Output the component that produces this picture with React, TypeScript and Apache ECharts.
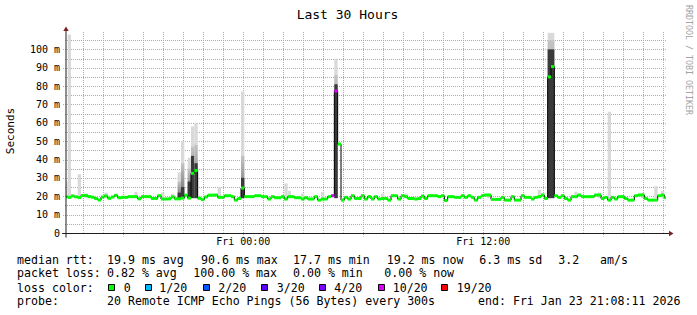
import React, { useEffect, useRef } from 'react';
import * as echarts from 'echarts';

// ---------- data ----------
const START_HOUR = 15 + 8 / 60 + 11 / 3600; // Thu 15:08:11, hours since Thu 00:00
const SPAN_HOURS = 30;
const STEP_HOURS = 10 / 60; // one sample per 10 minutes
const Y_MAX = 110;

// median round-trip time (ms), one per step
const medianMs = [
  19.7, 19.4, 20.2, 19.7, 19.3, 20.4, 20.4, 19.8, 19.5, 18.8,
  18.0, 19.6, 20.2, 18.9, 19.6, 20.5, 19.2, 19.4, 19.4, 19.8,
  19.8, 19.8, 18.6, 19.8, 19.8, 19.8, 18.8, 18.8, 20.3, 18.5,
  18.5, 18.6, 19.7, 18.6, 18.6, 19.0, 20.6, 19.0, 32.5, 34.0,
  18.9, 18.2, 19.6, 20.6, 20.6, 20.7, 19.4, 19.4, 20.3, 20.3,
  19.8, 17.9, 18.8, 24.5, 19.8, 19.8, 19.8, 20.3, 20.3, 19.8,
  19.8, 18.5, 19.8, 19.2, 19.2, 19.8, 18.5, 19.8, 19.8, 19.2,
  19.2, 18.5, 19.2, 18.5, 18.5, 19.8, 17.9, 18.5, 18.5, 19.8,
  20.3, 77.3, 48.4, 17.9, 19.4, 18.5, 20.3, 18.8, 18.8, 20.3,
  18.5, 19.8, 18.5, 19.8, 18.5, 18.8, 18.8, 17.9, 20.3, 20.3,
  18.5, 20.3, 19.8, 18.8, 18.8, 18.5, 18.8, 20.1, 18.8, 20.3,
  20.3, 20.3, 19.8, 20.3, 17.7, 19.8, 19.8, 19.4, 19.4, 20.3,
  19.4, 20.3, 19.4, 17.9, 19.4, 20.3, 20.7, 20.7, 18.3, 18.3,
  18.3, 19.4, 17.9, 17.9, 19.8, 17.9, 17.9, 20.3, 19.4, 19.4,
  18.5, 19.4, 19.8, 20.7, 18.8, 85.0, 90.6, 20.3, 19.4, 20.3,
  18.8, 17.9, 19.8, 19.8, 20.7, 19.8, 19.8, 19.8, 19.8, 20.7,
  20.7, 18.8, 19.4, 17.9, 19.4, 18.5, 19.8, 19.8, 18.8, 17.9,
  17.9, 20.3, 20.7, 20.7, 18.8, 17.9, 17.9, 17.9, 20.3, 20.7,
  19.2,
];

// [sample index, pings lost out of 20]
const lossSamples = [
  [80, 10],
  [81, 10],
];

// smoke: [sample index, lowest ping, top of dark band, top of mid band, highest ping] (ms)
const smokeSamples = [
  [0, 19, 19, 19, 28],
  [1, 19, 19, 19, 108],
  [4, 19, 19, 19, 32],
  [6, 19, 19, 19, 21.6],
  [12, 19, 19, 19, 22],
  [21, 19, 19, 19, 22.4],
  [29, 19, 19, 19, 22],
  [32, 19, 19, 19, 21.3],
  [34, 19, 22, 28, 33],
  [35, 19, 25, 38, 50],
  [37, 19, 28, 35, 41],
  [38, 19, 42, 47, 58],
  [39, 19, 38, 48, 60],
  [46, 19, 19, 19, 25],
  [53, 19, 30, 42, 77],
  [66, 19, 19, 19, 27],
  [67, 19, 19, 19, 23],
  [71, 19, 19, 19, 21.5],
  [77, 19, 19, 19, 22.4],
  [81, 19, 81, 86, 95],
  [95, 19, 19, 19, 21.5],
  [102, 19, 19, 19, 21.5],
  [127, 19, 19, 19, 21.3],
  [142, 19, 19, 19, 23.5],
  [145, 19, 100, 105, 109],
  [146, 19, 100, 105, 109],
  [153, 19, 19, 19, 22.5],
  [160, 19, 19, 19, 22],
  [163, 19, 19, 19, 66],
  [173, 19, 19, 19, 22],
  [177, 19, 19, 19, 25.5],
  [179, 19, 19, 19, 23],
];

const xLabelHours = [24, 36];
const xLabelTexts = ['Fri 00:00', 'Fri 12:00'];

const lossLabels = ['0', '1/20', '2/20', '3/20', '4/20', '10/20', '19/20'];
const lossThresholds = [0, 1, 2, 3, 4, 10, 19];
const lossColors = ['#00ff00', '#00b8ff', '#0059ff', '#5e00ff', '#7e00ff', '#dd00ff', '#ff0000'];

const rttLegend = ['median rtt:', '19.9 ms avg', '90.6 ms max', '17.7 ms min', '19.2 ms now', '6.3 ms sd', '3.2', 'am/s'];
const lossLegend = ['packet loss:', '0.82 % avg', '100.00 % max', '0.00 % min', '0.00 % now'];
const probeLegend = ['probe:', '20 Remote ICMP Echo Pings (56 Bytes) every 300s', 'end: Fri Jan 23 21:08:11 2026'];

// ---------- styles / layout ----------
const MONO = '"DejaVu Sans Mono", "Liberation Mono", monospace';
const GRID_COLOR = '#ababab';
const MGRID_COLOR = '#eb9595';
const ARROW_COLOR = '#801f1f';
const AXIS_COLOR = '#1f1f1f';
const SMOKE_LIGHT = '#d9d9d9';
const SMOKE_DARK = '#3a3a3a';

const rttX = [17, 107, 201, 293, 386.7, 479.3, 558.3, 600];
const lossX = [17, 107, 193.3, 293, 384.3];
const probeX = [17, 107, 478];
const boxX = [108, 145, 203, 261, 319, 378, 441];
const boxLabelX = [123.7, 159.3, 218.3, 276.7, 334.3, 392.7, 456.7];

function lossColor(loss: number) {
  let c = lossColors[0];
  for (let k = 0; k < lossThresholds.length; k++) if (loss >= lossThresholds[k]) c = lossColors[k];
  return c;
}

const lossByIndex: number[] = medianMs.map(() => 0);
lossSamples.forEach(([i, l]) => (lossByIndex[i] = l));

const tOf = (i: number) => START_HOUR + i * STEP_HOURS;

function legendText(text: string, x: number, y: number, size = 11.6) {
  return {
    type: 'text',
    x,
    y,
    silent: true,
    style: { text, fill: '#000', fontSize: size, fontFamily: MONO, align: 'left', verticalAlign: 'middle', textAlign: 'left', textVerticalAlign: 'middle' },
  };
}

export default function App() {
  const ref = useRef<HTMLDivElement>(null);

  useEffect(() => {
    const chart = echarts.init(ref.current!, null, { renderer: 'svg' });

    const clampX = (x: number, cs: any) => Math.max(cs.x, Math.min(cs.x + cs.width, x));

    const renderGrid = (params: any, api: any) => {
      const cs = params.coordSys;
      const children: any[] = [];
      const y0 = Math.round(api.coord([START_HOUR, 0])[1]) + 0.5;
      for (let h = Math.ceil(START_HOUR); h <= START_HOUR + SPAN_HOURS; h++) {
        const major = h % 6 === 0;
        const x = Math.round(api.coord([h, 0])[0]) + 0.5;
        children.push({
          type: 'line',
          shape: { x1: x, y1: cs.y + 1, x2: x, y2: major ? y0 + 3 : y0 - 1 },
          style: { stroke: major ? MGRID_COLOR : GRID_COLOR, lineWidth: 1, lineDash: [1, 1] },
        });
      }
      for (let v = 5; v < Y_MAX; v += 5) {
        const major = v % 10 === 0;
        const y = Math.round(api.coord([START_HOUR, v])[1]) + 0.5;
        children.push({
          type: 'line',
          shape: { x1: cs.x - (major ? 3 : 1), y1: y, x2: cs.x + cs.width + 1, y2: y },
          style: { stroke: major ? MGRID_COLOR : GRID_COLOR, lineWidth: 1, lineDash: [1, 1] },
        });
      }
      return { type: 'group', children };
    };

    const renderSmoke = (params: any, api: any) => {
      const cs = params.coordSys;
      const t = api.value(0);
      const xa = clampX(api.coord([t - STEP_HOURS / 2, 0])[0], cs);
      const xb = clampX(api.coord([t + STEP_HOURS / 2, 0])[0], cs);
      const yLow = api.coord([t, api.value(1)])[1];
      const yDark = api.coord([t, api.value(2)])[1];
      const yMid = api.coord([t, api.value(3)])[1];
      const yTop = api.coord([t, api.value(4)])[1];
      const children: any[] = [
        { type: 'rect', shape: { x: xa, y: yTop, width: xb - xa, height: yLow - yTop }, style: { fill: SMOKE_LIGHT } },
      ];
      if (yLow - yMid > 0.5) {
        children.push({
          type: 'rect',
          shape: { x: xa, y: yMid, width: xb - xa, height: yLow - yMid },
          style: {
            fill: new echarts.graphic.LinearGradient(0, 0, 0, 1, [
              { offset: 0, color: '#c4c4c4' },
              { offset: 1, color: '#6a6a6a' },
            ]),
          },
        });
      }
      if (yLow - yDark > 0.5) {
        children.push({ type: 'rect', shape: { x: xa, y: yDark, width: xb - xa, height: yLow - yDark }, style: { fill: SMOKE_DARK } });
      }
      return { type: 'group', children };
    };

    const renderMedian = (params: any, api: any) => {
      const cs = params.coordSys;
      const t = api.value(0);
      const v = api.value(1);
      const loss = api.value(2);
      const xa = clampX(api.coord([t - STEP_HOURS / 2, v])[0], cs);
      const p = api.coord([t + STEP_HOURS / 2, v]);
      const xb = clampX(p[0], cs);
      return { type: 'rect', shape: { x: xa, y: p[1] - 1.5, width: xb - xa, height: 3 }, style: { fill: lossColor(loss) } };
    };

    const renderFrame = (params: any, api: any) => {
      const cs = params.coordSys;
      const children: any[] = [];
      const y0 = Math.round(api.coord([START_HOUR, 0])[1]) + 0.5;
      const xL = cs.x;
      const xR = cs.x + cs.width;
      // x axis
      children.push({ type: 'line', shape: { x1: xL - 4, y1: y0, x2: xR + 3, y2: y0 }, style: { stroke: AXIS_COLOR, lineWidth: 1 } });
      children.push({
        type: 'polygon',
        shape: { points: [[xR + 3, y0 - 2.7], [xR + 7.5, y0], [xR + 3, y0 + 2.7]] },
        style: { fill: ARROW_COLOR },
      });
      // y axis
      children.push({ type: 'line', shape: { x1: xL, y1: y0 + 4, x2: xL, y2: cs.y - 1 }, style: { stroke: AXIS_COLOR, lineWidth: 1 } });
      children.push({
        type: 'polygon',
        shape: { points: [[xL - 2.7, cs.y], [xL, cs.y - 4.5], [xL + 2.7, cs.y]] },
        style: { fill: ARROW_COLOR },
      });
      xLabelHours.forEach((h, k) => {
        const x = api.coord([h, 0])[0];
        children.push({
          type: 'text',
          x,
          y: y0 + 8,
          style: {
            text: xLabelTexts[k], fill: '#000', fontSize: 10, fontFamily: MONO,
            align: 'center', verticalAlign: 'middle', textAlign: 'center', textVerticalAlign: 'middle',
          },
        });
      });
      return { type: 'group', children };
    };

    const graphics: any[] = [
      {
        type: 'text', x: 347.5, y: 14, silent: true,
        style: { text: 'Last 30 Hours', fill: '#000', fontSize: 13, fontFamily: MONO, align: 'center', verticalAlign: 'middle', textAlign: 'center', textVerticalAlign: 'middle' },
      },
      {
        type: 'text', x: 10.5, y: 131, rotation: Math.PI / 2, silent: true,
        style: { text: 'Seconds', fill: '#000', fontSize: 11, fontFamily: MONO, align: 'center', verticalAlign: 'middle', textAlign: 'center', textVerticalAlign: 'middle' },
      },
      {
        type: 'text', x: 688.5, y: 60, rotation: -Math.PI / 2, silent: true,
        style: { text: 'RRDTOOL / TOBI OETIKER', fill: '#a3a3a3', fontSize: 8.3, fontFamily: MONO, align: 'center', verticalAlign: 'middle', textAlign: 'center', textVerticalAlign: 'middle' },
      },
    ];
    rttLegend.forEach((s, k) => graphics.push(legendText(s, rttX[k], 260)));
    lossLegend.forEach((s, k) => graphics.push(legendText(s, lossX[k], 273.3)));
    graphics.push(legendText('loss color:', 17, 287.7));
    lossLabels.forEach((s, k) => {
      graphics.push({
        type: 'rect', silent: true,
        shape: { x: boxX[k] + 0.5, y: 284.5, width: 6, height: 6 },
        style: { fill: lossColors[k], stroke: '#000', lineWidth: 1 },
      });
      graphics.push(legendText(s, boxLabelX[k], 287.7));
    });
    probeLegend.forEach((s, k) => graphics.push(legendText(s, probeX[k], 301)));

    const option: any = {
      animation: false,
      backgroundColor: '#ffffff',
      grid: { left: 66, top: 31, width: 600, height: 202, outerBoundsMode: 'none', containLabel: false },
      xAxis: {
        type: 'value', min: START_HOUR, max: START_HOUR + SPAN_HOURS, show: false,
        axisLine: { show: false }, axisTick: { show: false }, axisLabel: { show: false }, splitLine: { show: false },
      },
      yAxis: {
        type: 'value', min: 0, max: Y_MAX, interval: 10,
        axisLine: { show: false }, axisTick: { show: false }, splitLine: { show: false },
        axisLabel: {
          margin: 6, color: '#000', fontSize: 10, fontFamily: MONO,
          formatter: (v: number) => (v === 0 ? '0' : v > 100 ? '' : `${v} m`),
        },
      },
      graphic: graphics,
      series: [
        {
          type: 'custom', name: 'grid', z: 1, silent: true,
          data: [[START_HOUR, 0]], encode: { x: 0, y: 1 },
          renderItem: renderGrid,
        },
        {
          type: 'custom', name: 'smoke', z: 2, silent: true,
          data: smokeSamples.map(([i, lo, dk, md, tp]) => [tOf(i), lo, dk, md, tp]),
          encode: { x: 0, y: 4 },
          renderItem: renderSmoke,
        },
        {
          type: 'line', name: 'median outline', z: 3, silent: true,
          step: 'middle', showSymbol: false, symbol: 'none',
          lineStyle: { color: '#000', width: 1 },
          data: medianMs.map((v, i) => [tOf(i), v]),
        },
        {
          type: 'custom', name: 'median', z: 4, silent: true,
          data: medianMs.map((v, i) => [tOf(i), v, lossByIndex[i]]),
          encode: { x: 0, y: 1 },
          renderItem: renderMedian,
        },
        {
          type: 'custom', name: 'frame', z: 5, silent: true,
          data: [[START_HOUR, 0]], encode: { x: 0, y: 1 },
          renderItem: renderFrame,
        },
      ],
    };

    chart.setOption(option);
    return () => chart.dispose();
  }, []);

  return (
    <div
      ref={ref}
      style={{ position: 'fixed', left: 0, top: 0, width: 697, height: 315, background: '#fff' }}
    />
  );
}
